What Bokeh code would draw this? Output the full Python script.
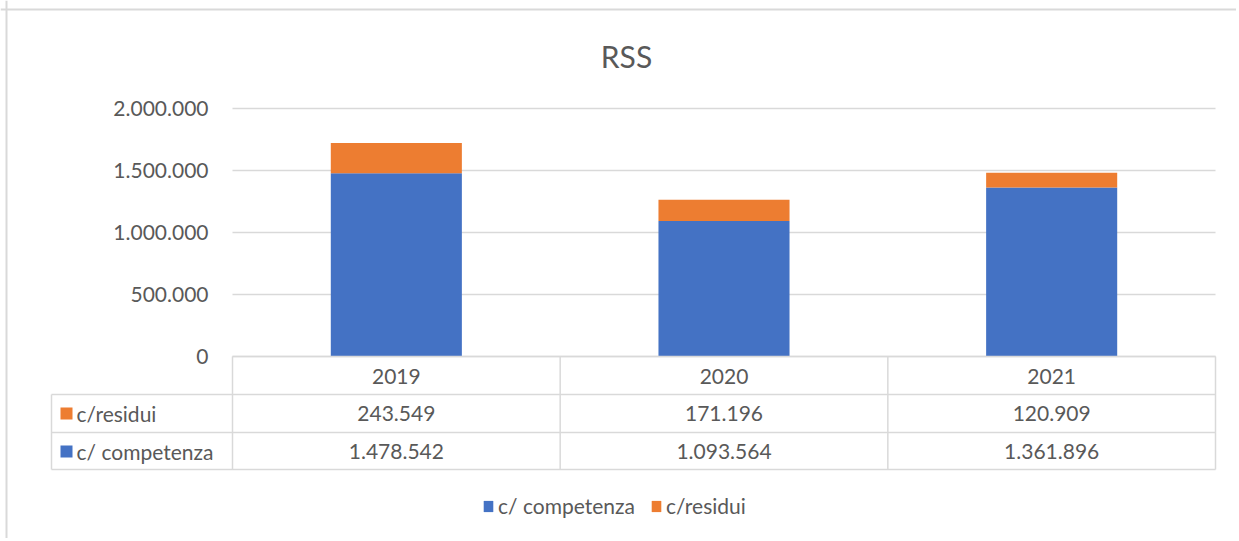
from bokeh.plotting import figure
from bokeh.models import Range1d, Span, Legend, LegendItem, ColumnDataSource
from bokeh.core.properties import value
from bokeh.embed import file_html
from bokeh.resources import INLINE

# ---- data ----
years = ["2019", "2020", "2021"]
competenza = [1478542, 1093564, 1361896]
residui = [243549, 171196, 120909]
series_names = ["c/ competenza", "c/residui"]
y_ticks = [0, 500000, 1000000, 1500000, 2000000]
title_text = "RSS"

BLUE = "#4472C4"
ORANGE = "#ED7D31"
GRID = "#D9D9D9"
TEXT = "#595959"
FONT = value("Lato")

def fmt(v):
    return f"{v:,}".replace(",", ".")

# layout helpers: reference-page pixel -> data coordinates
PL, PR, PB, PT = 232, 1215, 356, 108
def dx(px):
    return (px - PL) / (PR - PL) * len(years)
def dy(px):
    return (PB - px) / (PB - PT) * y_ticks[-1]

W, H = 1236, 538
p = figure(width=W, height=H, x_range=Range1d(dx(0), dx(W)),
           y_range=Range1d(dy(H), dy(0)), x_axis_location=None,
           y_axis_location=None, toolbar_location=None, output_backend="svg",
           min_border=0, outline_line_color=None)
p.grid.visible = False

# gridlines
p.segment(x0=[0] * len(y_ticks), x1=[len(years)] * len(y_ticks), y0=y_ticks, y1=y_ticks,
          line_color=GRID, line_width=1.5)
# y tick labels
p.text(x=[dx(208)] * len(y_ticks), y=y_ticks, text=[fmt(t) for t in y_ticks],
       text_font=FONT, text_font_size="21px", text_color=TEXT,
       text_align="right", text_baseline="middle")

# bars
xc = [i + 0.5 for i in range(len(years))]
src = ColumnDataSource(dict(x=xc, comp=competenza, res=residui))
rs = p.vbar_stack(["comp", "res"], x="x", width=0.4, color=[BLUE, ORANGE],
                  line_color=None, source=src)

# table lines
n = len(years)
row_px = [394, 432, 469]
p.segment(x0=[0] + [dx(51)] * 3, x1=[n] * 4, y0=[0] + [dy(r) for r in row_px],
          y1=[0] + [dy(r) for r in row_px], line_color=GRID, line_width=1.5)
p.segment(x0=list(range(n + 1)), x1=list(range(n + 1)), y0=[0] * (n + 1),
          y1=[dy(469)] * (n + 1), line_color=GRID, line_width=1.5)
p.segment(x0=[dx(51)], x1=[dx(51)], y0=[dy(394)], y1=[dy(469)], line_color=GRID, line_width=1.5)

# table text
p.text(x=xc, y=[dy(376)] * n, text=years, text_font=FONT, text_font_size="21px",
       text_color=TEXT, text_align="center", text_baseline="middle")
p.text(x=xc, y=[dy(413)] * n, text=[fmt(v) for v in residui], text_font=FONT,
       text_font_size="21px", text_color=TEXT, text_align="center", text_baseline="middle")
p.text(x=xc, y=[dy(451)] * n, text=[fmt(v) for v in competenza], text_font=FONT,
       text_font_size="21px", text_color=TEXT, text_align="center", text_baseline="middle")
# row labels with keys
p.rect(x=[dx(66)] * 2, y=[dy(413), dy(451)], width=dx(78) - dx(66), height=dy(400) - dy(412),
       fill_color=[ORANGE, BLUE], line_color=None)
p.text(x=[dx(76)] * 2, y=[dy(413), dy(451)], text=[series_names[1], series_names[0]],
       text_font=FONT, text_font_size="21px", text_color=TEXT, text_align="left",
       text_baseline="middle")

# title
p.text(x=[dx(626)], y=[dy(55)], text=[title_text], text_font=FONT, text_font_size="30px",
       text_color=TEXT, text_align="center", text_baseline="middle")

# chart border (top and left)
p.add_layout(Span(location=dy(9), dimension="width", line_color=GRID, line_width=2))
p.add_layout(Span(location=dx(6), dimension="height", line_color=GRID, line_width=2))

# legend
legend = Legend(items=[LegendItem(label=series_names[0], renderers=[rs[0]]),
                       LegendItem(label=series_names[1], renderers=[rs[1]])],
                orientation="horizontal", location=(482, 20), padding=0, margin=0,
                spacing=15, label_standoff=4, glyph_width=12, glyph_height=14,
                label_text_font="Lato", label_text_font_size="21px",
                label_text_color=TEXT, border_line_color=None,
                background_fill_alpha=0)
p.add_layout(legend)

open("out.html", "w").write(file_html(p, INLINE))
